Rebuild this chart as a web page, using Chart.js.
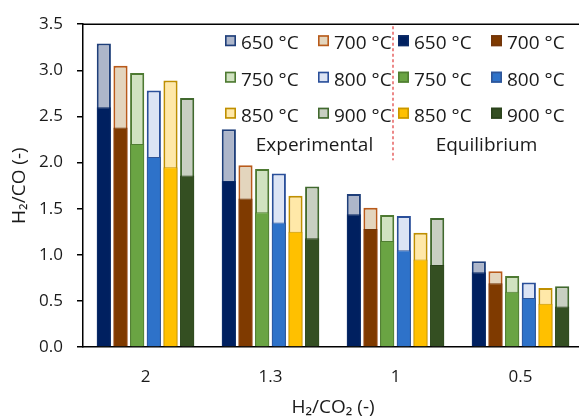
<!DOCTYPE html>
<html>
<head>
<meta charset="utf-8">
<script src="https://cdn.jsdelivr.net/npm/chart.js@4"></script>
<style>
html,body{margin:0;padding:0;background:#fff;overflow:hidden;}
#wrap{width:583px;height:420px;}
</style>
</head>
<body>
<div id="wrap"><canvas id="c" width="583" height="420"></canvas></div>
<script>
// ---- data ----
const categories = ['2', '1.3', '1', '0.5'];
const temps = ['650 °C', '700 °C', '750 °C', '800 °C', '850 °C', '900 °C'];
const exp650 = [3.29, 2.36, 1.66, 0.93];
const exp700 = [3.05, 1.97, 1.51, 0.82];
const exp750 = [2.97, 1.93, 1.43, 0.77];
const exp800 = [2.78, 1.88, 1.42, 0.70];
const exp850 = [2.89, 1.64, 1.24, 0.64];
const exp900 = [2.70, 1.74, 1.40, 0.66];
const eq650 = [2.60, 1.80, 1.44, 0.81];
const eq700 = [2.38, 1.61, 1.28, 0.69];
const eq750 = [2.20, 1.46, 1.15, 0.60];
const eq800 = [2.06, 1.35, 1.05, 0.53];
const eq850 = [1.95, 1.25, 0.95, 0.47];
const eq900 = [1.86, 1.18, 0.89, 0.44];
const yTicks = [0, 0.5, 1, 1.5, 2, 2.5, 3, 3.5];
const groupLabels = ['Experimental', 'Equilibrium'];

// ---- styles ----
const expValues = [exp650, exp700, exp750, exp800, exp850, exp900];
const eqValues = [eq650, eq700, eq750, eq800, eq850, eq900];
const expFill = ['#ADB6CA', '#E3D5BD', '#D0E2C0', '#DCE4F4', '#FFE8A8', '#C8CFC2'];
const expBorder = ['#1F3F7A', '#B85A1A', '#4E7A32', '#2A4F9A', '#BF8F00', '#41692E'];
const eqFill = ['#002060', '#7F3A00', '#6AA443', '#2E72C9', '#FFC000', '#344F22'];
const eqBorder = ['#0A2A66', '#73360A', '#507E32', '#2F5597', '#C89600', '#2A421B'];

const datasets = [];
temps.forEach((t, i) => {
  datasets.push({
    label: t, group: 'eq', data: eqValues[i], stack: 's' + i,
    backgroundColor: eqFill[i], borderColor: eqBorder[i], borderWidth: 1,
    barPercentage: 0.85, categoryPercentage: 0.8
  });
});
temps.forEach((t, i) => {
  datasets.push({
    label: t, group: 'exp', data: expValues[i], stack: 's' + i,
    backgroundColor: expFill[i], borderColor: expBorder[i], borderWidth: 2,
    barPercentage: 0.85, categoryPercentage: 0.8
  });
});

const FONT = "'Open Sans', sans-serif";
const TXT = '#1a1a1a';

const legendPlugin = {
  id: 'customLegend',
  afterDraw(chart) {
    const ctx = chart.ctx;
    const a = chart.chartArea;
    ctx.save();
    // top frame line
    ctx.strokeStyle = '#000';
    ctx.lineWidth = 1.5;
    ctx.beginPath();
    ctx.moveTo(a.left, a.top);
    ctx.lineTo(a.right, a.top);
    ctx.stroke();

    const ds = chart.data.datasets;
    const exps = ds.filter(d => d.group === 'exp');
    const eqs = ds.filter(d => d.group === 'eq');
    const colX = [a.left + 142, a.left + 235, a.left + 315, a.left + 408];
    const rowBase = [a.top + 25, a.top + 61.5, a.top + 97.5];
    ctx.font = '19px ' + FONT;
    ctx.fillStyle = TXT;
    ctx.textBaseline = 'alphabetic';
    ctx.textAlign = 'left';
    for (let r = 0; r < 3; r++) {
      const items = [exps[2 * r], exps[2 * r + 1], eqs[2 * r], eqs[2 * r + 1]];
      items.forEach((d, c) => {
        const bx = colX[c], by = rowBase[r] - 14;
        ctx.fillStyle = d.backgroundColor;
        ctx.fillRect(bx, by, 11, 11);
        ctx.strokeStyle = d.borderColor;
        ctx.lineWidth = 1.6;
        ctx.strokeRect(bx + 0.8, by + 0.8, 9.4, 9.4);
        ctx.fillStyle = TXT;
        ctx.fillText(d.label, bx + 16, rowBase[r]);
      });
    }
    // group labels
    ctx.textAlign = 'center';
    ctx.fillText(groupLabels[0], a.left + 231.5, a.top + 127);
    ctx.fillText(groupLabels[1], a.left + 403.5, a.top + 127);
    // red dashed divider
    ctx.strokeStyle = '#E03A3A';
    ctx.lineWidth = 1.2;
    ctx.setLineDash([3, 2.5]);
    ctx.beginPath();
    ctx.moveTo(a.left + 310, a.top + 2);
    ctx.lineTo(a.left + 310, a.top + 136);
    ctx.stroke();
    ctx.restore();
  }
};

new Chart(document.getElementById('c'), {
  type: 'bar',
  data: { labels: categories, datasets: datasets },
  options: {
    responsive: false,
    animation: false,
    devicePixelRatio: 1,
    layout: { padding: { top: 21, right: 0, left: 0, bottom: 0 } },
    plugins: { legend: { display: false }, tooltip: { enabled: false } },
    scales: {
      x: {
        stacked: true,
        grid: { display: false, drawTicks: false },
        border: { display: true, color: '#000', width: 1.5 },
        ticks: { color: TXT, font: { family: FONT, size: 17 }, padding: 19.5 },
        title: { display: true, text: 'H₂/CO₂ (-)', color: TXT, font: { family: FONT, size: 19 }, padding: { top: 0, bottom: 1 } },
        afterFit(s) { s.height = 73; }
      },
      y: {
        stacked: false,
        min: 0, max: 3.5,
        afterBuildTicks(s) { s.ticks = yTicks.map(v => ({ value: v })); },
        grid: { display: true, drawOnChartArea: false, drawTicks: true, tickLength: 6, color: '#000', lineWidth: 1.5 },
        border: { display: true, color: '#000', width: 1.5 },
        ticks: { color: TXT, font: { family: FONT, size: 17 }, padding: 14, callback: v => Number(v).toFixed(1) },
        title: { display: true, text: 'H₂/CO (-)', color: TXT, font: { family: FONT, size: 19 }, padding: { top: 8.5, bottom: 0 } },
        afterFit(s) { s.width = 83; }
      }
    }
  },
  plugins: [legendPlugin]
});
</script>
</body>
</html>
